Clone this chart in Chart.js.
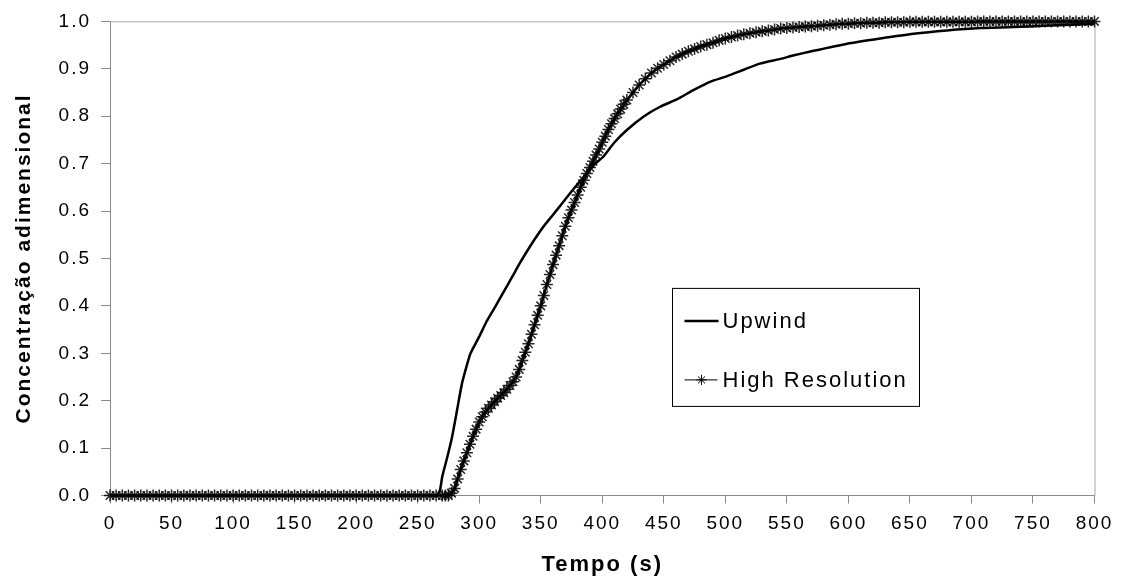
<!DOCTYPE html>
<html>
<head>
<meta charset="utf-8">
<script src="https://cdn.jsdelivr.net/npm/chart.js@4.4.1/dist/chart.umd.min.js"></script>
<style>
  html, body { margin: 0; padding: 0; background: #fff; }
  #wrap { width: 1122px; height: 583px; }
</style>
</head>
<body>
<div id="wrap"><canvas id="tempoChart"></canvas></div>
<script>
// Upwind curve (solid line)
const upwindTime = [0, 265, 268, 270, 274, 278, 282, 286, 290, 293,
  300, 306, 313, 320, 327, 333, 340, 347, 354, 360,
  367, 374, 381, 388, 394, 401, 410, 420, 434, 447,
  461, 474, 488, 501, 515, 528, 545, 555, 570, 599,
  626, 653, 680, 707, 734, 760, 780, 800];
const upwindConc = [0, 0, 0.01, 0.04, 0.08, 0.124, 0.18, 0.236, 0.275, 0.3,
  0.335, 0.367, 0.398, 0.43, 0.462, 0.49, 0.52, 0.548, 0.573, 0.592,
  0.615, 0.638, 0.66, 0.681, 0.699, 0.715, 0.745, 0.771, 0.8, 0.82,
  0.836, 0.855, 0.873, 0.884, 0.898, 0.911, 0.921, 0.928, 0.937, 0.953,
  0.964, 0.974, 0.981, 0.986, 0.988, 0.991, 0.993, 0.995];

// High Resolution curve (star markers)
const hrTime = [0, 5, 10, 15, 20, 25, 30, 35, 40, 45, 50, 55, 60, 65, 70, 75, 80, 85, 90, 95,
  100, 105, 110, 115, 120, 125, 130, 135, 140, 145, 150, 155, 160, 165, 170, 175, 180, 185, 190, 195,
  200, 205, 210, 215, 220, 225, 230, 235, 240, 245, 250, 255, 260, 265,
  270, 272.5, 275, 277.5, 280, 282.5, 285, 287.5, 290, 292.5, 295, 297.5, 300, 302.5, 305, 307.5,
  310, 312.5, 315, 317.5, 320, 322.5, 325, 327.5, 330, 332.5, 335, 337.5, 340, 342.5, 345, 347.5,
  350, 352.5, 355, 357.5, 360, 362.5, 365, 367.5, 370, 372.5, 375, 377.5, 380, 382.5, 385, 387.5,
  390, 392.5, 395, 397.5, 400, 402.5, 405, 407.5, 410, 412.5, 415, 417.5, 420,
  425, 430, 435, 440, 445, 450, 455, 460, 465, 470, 475, 480, 485, 490, 495, 500,
  505, 510, 515, 520, 525, 530, 535, 540, 545, 550, 555, 560, 565, 570, 575, 580,
  585, 590, 595, 600, 605, 610, 615, 620, 625, 630, 635, 640, 645, 650, 655, 660,
  665, 670, 675, 680, 685, 690, 695, 700, 705, 710, 715, 720, 725, 730, 735, 740,
  745, 750, 755, 760, 765, 770, 775, 780, 785, 790, 795, 800];
const hrConc = [0, 0, 0, 0, 0, 0, 0, 0, 0, 0, 0, 0, 0, 0, 0, 0, 0, 0, 0, 0,
  0, 0, 0, 0, 0, 0, 0, 0, 0, 0, 0, 0, 0, 0, 0, 0, 0, 0, 0, 0,
  0, 0, 0, 0, 0, 0, 0, 0, 0, 0, 0, 0, 0, 0,
  0, 0, 0, 0.005, 0.015, 0.035, 0.055, 0.073, 0.09, 0.108, 0.125, 0.14, 0.155, 0.166, 0.176, 0.184,
  0.191, 0.198, 0.205, 0.211, 0.217, 0.224, 0.232, 0.24, 0.25, 0.266, 0.285, 0.302, 0.32, 0.34, 0.36, 0.38,
  0.4, 0.422, 0.445, 0.466, 0.487, 0.507, 0.527, 0.548, 0.568, 0.586, 0.602, 0.618, 0.634, 0.65, 0.665, 0.679,
  0.692, 0.705, 0.718, 0.731, 0.745, 0.758, 0.772, 0.784, 0.795, 0.805, 0.815, 0.825, 0.834,
  0.85, 0.866, 0.879, 0.891, 0.901, 0.909, 0.917, 0.925, 0.931, 0.937, 0.942, 0.947, 0.951, 0.955, 0.96, 0.964,
  0.967, 0.97, 0.973, 0.975, 0.977, 0.979, 0.981, 0.983, 0.985, 0.986, 0.987, 0.988, 0.989, 0.99, 0.991, 0.992,
  0.993, 0.994, 0.995, 0.995, 0.996, 0.996, 0.997, 0.997, 0.997, 0.998, 0.998, 0.998, 0.998, 0.999, 0.999, 0.999,
  0.999, 0.999, 0.999, 0.999, 0.999, 0.999, 0.999, 0.999, 1, 1, 1, 1, 1, 1, 1, 1,
  1, 1, 1, 1, 1, 1, 1, 1, 1, 1, 1, 1];

const xTickStep = 50;
const yTickStep = 0.1;
const xTitle = "Tempo (s)";
const yTitle = "Concentração adimensional";

const AXIS_GRAY = "#8a8a8a";

function toPoints(xs, ys) {
  return xs.map((x, i) => ({ x, y: ys[i] }));
}

// letter spacing on all canvas text, plot frame and the boxed legend
const framePlugin = {
  id: "framePlugin",
  beforeDraw(chart) {
    chart.ctx.letterSpacing = "2px";
  },
  beforeDatasetsDraw(chart) {
    const { ctx, chartArea } = chart;
    ctx.save();
    ctx.strokeStyle = "#a8a8a8";
    ctx.lineWidth = 1;
    ctx.beginPath();
    ctx.moveTo(chartArea.left, chartArea.top + 0.5);
    ctx.lineTo(chartArea.right + 0.5, chartArea.top + 0.5);
    ctx.lineTo(chartArea.right + 0.5, chartArea.bottom);
    ctx.stroke();
    ctx.restore();
  },
  afterDraw(chart) {
    const { ctx, chartArea } = chart;
    const [up, hr] = chart.data.datasets;
    const bx = chartArea.left + 562.5;
    const by = chartArea.top + 267;
    ctx.save();
    ctx.fillStyle = "#fff";
    ctx.fillRect(bx, by, 247, 118);
    ctx.strokeStyle = "#000";
    ctx.lineWidth = 1;
    ctx.strokeRect(bx, by, 247, 118);

    ctx.font = "22px 'Liberation Sans', Arial, sans-serif";
    ctx.letterSpacing = "2px";
    ctx.textBaseline = "middle";
    ctx.fillStyle = "#000";

    const row1 = by + 32.5;
    ctx.strokeStyle = up.borderColor;
    ctx.lineWidth = up.borderWidth;
    ctx.beginPath();
    ctx.moveTo(bx + 12, row1);
    ctx.lineTo(bx + 46, row1);
    ctx.stroke();
    ctx.fillText(up.label, bx + 50, row1 + 1);

    const row2 = by + 91.5;
    ctx.strokeStyle = "#000";
    ctx.lineWidth = 1;
    ctx.beginPath();
    ctx.moveTo(bx + 12, row2);
    ctx.lineTo(bx + 45, row2);
    ctx.stroke();
    Chart.helpers.drawPoint(ctx, { pointStyle: "star", radius: 5, rotation: 0, borderWidth: 1 }, bx + 29, row2);
    ctx.fillText(hr.label, bx + 50, row2 + 1);
    ctx.restore();
  }
};

Chart.defaults.font.family = "'Liberation Sans', Arial, sans-serif";
Chart.defaults.color = "#000";

new Chart(document.getElementById("tempoChart"), {
  type: "scatter",
  data: {
    datasets: [
      {
        label: "Upwind",
        data: toPoints(upwindTime, upwindConc),
        showLine: true,
        borderColor: "#000",
        borderWidth: 2.5,
        pointRadius: 0,
        tension: 0.2,
        clip: false
      },
      {
        label: "High Resolution",
        data: toPoints(hrTime, hrConc),
        showLine: true,
        borderColor: "#000",
        borderWidth: 2.5,
        pointStyle: "star",
        pointRadius: 6,
        pointBorderWidth: 1.5,
        pointBorderColor: "rgba(0,0,0,0.85)",
        pointBackgroundColor: "rgba(0,0,0,0)",
        tension: 0,
        clip: false
      }
    ]
  },
  options: {
    responsive: true,
    maintainAspectRatio: false,
    animation: false,
    layout: { padding: { top: 19.5, right: 27.5, left: 0, bottom: 0 } },
    plugins: {
      legend: { display: false },
      tooltip: { enabled: false }
    },
    scales: {
      x: {
        type: "linear",
        min: 0,
        max: 800,
        afterFit(scale) { scale.height = 87.5; },
        border: { color: AXIS_GRAY, width: 1 },
        grid: { drawOnChartArea: false, tickLength: 8, color: AXIS_GRAY },
        ticks: {
          stepSize: xTickStep,
          padding: 9,
          maxRotation: 0,
          font: { size: 19 },
          color: "#000"
        },
        title: {
          display: true,
          text: xTitle,
          font: { size: 22, weight: "bold" },
          color: "#000",
          padding: { top: 0, bottom: 5 }
        }
      },
      y: {
        min: 0,
        max: 1,
        afterFit(scale) { scale.width = 110; },
        border: { color: AXIS_GRAY, width: 1 },
        grid: { drawOnChartArea: false, tickLength: 9, color: AXIS_GRAY },
        ticks: {
          stepSize: yTickStep,
          padding: 10,
          font: { size: 19 },
          color: "#000",
          callback: (v) => Number(v).toFixed(1)
        },
        title: {
          display: true,
          text: yTitle,
          font: { size: 21, weight: "bold" },
          color: "#000",
          padding: { top: 12, bottom: 0 }
        }
      }
    }
  },
  plugins: [framePlugin]
});
</script>
</body>
</html>
